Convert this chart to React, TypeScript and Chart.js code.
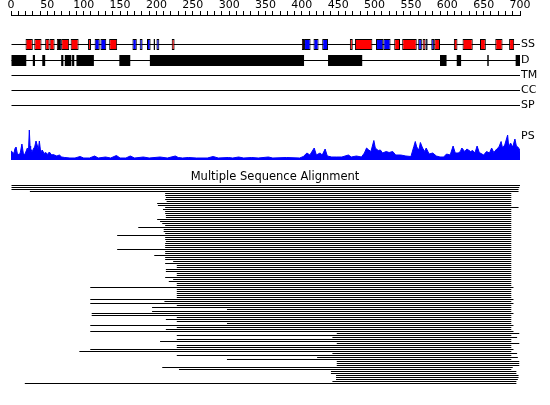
import React, { useEffect, useRef } from 'react';
import { Chart, registerables } from 'chart.js';

Chart.register(...registerables);

// ---------------- data ----------------
const SEQ_LENGTH = 700;
const RULER_STEP = 10;
const RULER_LABEL_STEP = 50;

const TRACK_NAMES = ['SS', 'D', 'TM', 'CC', 'SP', 'PS'];

// secondary structure: helix (red) and strand (blue) segments [start, end]
const SS_HELIX: [number, number][] = [
  [20, 30], [32, 42], [47, 53], [53, 60], [63, 66], [69, 80], [82, 93], [106, 110],
  [135, 146], [221, 225], [400, 403], [466, 470], [473, 497], [527, 535], [538, 558],
  [566, 570], [582, 590], [609, 614], [621, 635], [645, 653], [666, 676], [685, 692],
];
const SS_STRAND: [number, number][] = [
  [66, 69], [115, 122], [123, 131], [167, 173], [177, 181], [187, 192], [196, 198],
  [200, 204], [403, 412], [416, 423], [428, 436], [502, 512], [512, 522], [560, 565],
  [570, 573], [578, 582],
];
// disorder segments
const DISORDER: [number, number][] = [
  [0, 21], [30, 33], [43, 47], [69, 72], [74, 83], [84, 87], [90, 114], [149, 164],
  [191, 403], [436, 483], [590, 599], [613, 619], [655, 657], [694, 700],
];

// profile (PS) positions and scores
const PS_POS = [
  0, 2, 4, 5.5, 7, 8.7, 11.5, 13, 15, 17, 19, 22.5, 24, 25.2, 26.2, 27, 29, 30.7, 32.5, 34.4,
  36, 37.5, 39, 40.8, 43, 45.4, 48, 50, 52.7, 56, 58, 63, 66.5, 69.7, 74, 81, 88, 95, 100, 108,
  115, 120, 130, 137, 145, 150, 158, 164, 170, 182, 190, 205, 215, 226, 230, 236, 244, 255, 270, 278,
  285, 299, 305, 313, 320, 331, 340, 354, 360, 379, 397, 402, 407, 411, 417, 420, 425, 428, 432, 435,
  441, 448, 455, 464, 468, 475, 482, 486, 489, 492, 495, 499, 501, 505, 508, 511, 516, 520, 525, 529,
  536, 543, 550, 554, 556, 558, 561, 563, 566, 569, 571, 575, 580, 585, 590, 595, 599, 604, 608, 611,
  615, 618, 620, 624, 627, 632, 635, 638, 641, 644, 650, 654, 658, 661, 664, 668, 671, 674, 676, 679,
  683, 684.5, 687, 690, 693, 695, 697, 699, 700,
];
const PS_SCORE = [
  9, 8, 6.5, 11.5, 13, 6.5, 5, 8, 16, 6.5, 5.5, 12, 8, 30, 14, 11.5, 8, 11, 13, 19,
  15, 10, 19, 8, 10, 6.5, 7.5, 5.5, 8, 5, 5.5, 4, 5, 3, 2.5, 2, 2, 3.5, 2, 2,
  4, 2, 3, 2, 4.5, 2, 2, 4, 2, 3, 2, 3, 2, 4, 2.5, 2, 2.5, 2, 2, 3.5,
  2, 2.5, 2, 3, 2, 2.5, 2, 3, 2, 2.5, 2, 3.5, 7, 5, 12, 5, 7, 5, 11, 4,
  3, 3, 3, 5, 3, 4, 3, 7, 12, 10, 8.5, 19.5, 12, 9.5, 10, 7, 8.5, 7.5, 8.5, 5,
  5, 4, 3.5, 13.5, 18.5, 13, 10, 17.5, 12, 8.5, 12, 6, 7, 4, 3, 3, 6, 5, 14, 7,
  7, 8.5, 12, 8.5, 11, 8.5, 9.5, 7, 14, 7.5, 5, 8.5, 7, 12, 7.5, 11, 13, 18.5, 12, 15,
  25, 13, 17, 13, 21, 14, 13, 11, 8.5,
];

// multiple sequence alignment: aligned start / end of each hit
const MSA_START = [
  0, 0, 0, 26, 212, 212, 213, 212, 214, 201,
  202, 212, 209, 212, 212, 213, 213, 201, 205, 208,
  212, 175, 210, 210, 212, 146, 212, 212, 213, 212,
  212, 212, 146, 212, 212, 197, 212, 212, 223, 212,
  228, 228, 213, 213, 228, 228, 212, 223, 217, 228,
  228, 109, 228, 228, 228, 228, 228, 109, 211, 109,
  228, 194, 297, 194, 111, 111, 228, 213, 228, 297,
  109, 228, 213, 109, 448, 228, 442, 228, 205, 448,
  228, 228, 109, 94, 442, 228, 421, 297, 448, 448,
  448, 208, 231, 440, 440, 447, 447, 447, 442, 19,
];
const MSA_END = [
  700, 699, 698, 698, 688, 688, 688, 688, 688, 688,
  688, 698, 688, 688, 688, 688, 688, 688, 688, 688,
  688, 688, 688, 688, 688, 688, 688, 688, 688, 688,
  688, 688, 688, 688, 688, 688, 688, 688, 688, 688,
  688, 688, 688, 688, 688, 688, 688, 688, 688, 688,
  688, 691, 688, 688, 688, 688, 688, 691, 688, 691,
  688, 688, 688, 688, 691, 688, 688, 688, 688, 688,
  691, 688, 688, 691, 699, 688, 696, 688, 688, 699,
  688, 688, 691, 688, 696, 688, 697, 688, 699, 699,
  699, 690, 688, 695, 695, 698, 698, 697, 695, 695,
];
const MSA_TITLE = 'Multiple Sequence Alignment';

// ---------------- layout (pixel rows of the page) ----------------
const W = 550;
const H = 405;
const FONT = 'DejaVu Sans';
const PLOT_TOP = 15;
const PLOT_BOTTOM = 390;
const PLOT_LEFT = 11;
const LABEL_W = 30;
const TRACK_Y = [44.5, 60.5, 75.5, 90.5, 105.5, 136]; // SS, D, TM, CC, SP, PS label
const PS_BASE = 160;
const MSA_TITLE_Y = 180;
const MSA_TOP = 185.5;
const MSA_GAP = 2;

const msaTitlePlugin = {
  id: 'msaTitle',
  afterDraw(chart: any) {
    const { ctx } = chart;
    const y = chart.scales.y.getPixelForValue(MSA_TITLE_Y);
    ctx.save();
    ctx.font = `11.5px "${FONT}"`;
    ctx.fillStyle = '#000';
    ctx.textAlign = 'center';
    ctx.textBaseline = 'alphabetic';
    ctx.fillText(MSA_TITLE, chart.width / 2, y);
    ctx.restore();
  },
};

const barCommon = {
  type: 'bar' as const,
  indexAxis: 'y' as const,
  xAxisID: 'x',
  yAxisID: 'y',
  grouped: false,
  inflateAmount: 0,
  borderSkipped: false,
};

export default function App() {
  const ref = useRef<HTMLCanvasElement>(null);

  useEffect(() => {
    const segs = (list: [number, number][], y: number) => list.map(([s, e]) => ({ x: [s, e], y }));
    const baselineRows = [0, 1, 2, 3, 4].map((i) => ({ x: [0, SEQ_LENGTH], y: TRACK_Y[i] }));

    const chart = new Chart(ref.current as HTMLCanvasElement, {
      type: 'bar',
      plugins: [msaTitlePlugin],
      data: {
        datasets: [
          {
            ...barCommon,
            label: 'SS helix',
            data: segs(SS_HELIX, TRACK_Y[0]),
            backgroundColor: '#ff0000',
            borderColor: '#000000',
            borderWidth: 1,
            barThickness: 11,
            order: 1,
          },
          {
            ...barCommon,
            label: 'SS strand',
            data: segs(SS_STRAND, TRACK_Y[0]),
            backgroundColor: '#0000ff',
            borderColor: '#000000',
            borderWidth: 1,
            barThickness: 11,
            order: 1,
          },
          {
            ...barCommon,
            label: 'Disorder',
            data: segs(DISORDER, TRACK_Y[1]),
            backgroundColor: '#000000',
            borderWidth: 0,
            barThickness: 11,
            order: 1,
          },
          {
            ...barCommon,
            label: 'Tracks',
            data: baselineRows,
            backgroundColor: '#000000',
            borderWidth: 0,
            barThickness: 1,
            order: 3,
          },
          {
            ...barCommon,
            label: 'MSA',
            data: MSA_START.map((s, i) => ({ x: [s, MSA_END[i]], y: MSA_TOP + i * MSA_GAP })),
            backgroundColor: '#000000',
            borderWidth: 0,
            barThickness: 1,
            order: 1,
          },
          {
            type: 'line',
            indexAxis: 'x',
            label: 'PS',
            xAxisID: 'x',
            yAxisID: 'yPS',
            data: PS_POS.map((p, i) => ({ x: p, y: PS_SCORE[i] })),
            borderColor: '#0000ff',
            backgroundColor: '#0000ff',
            borderWidth: 1,
            pointRadius: 0,
            tension: 0,
            fill: 'origin',
            order: 2,
          } as any,
        ] as any,
      },
      options: {
        indexAxis: 'y',
        responsive: false,
        animation: false,
        events: [],
        layout: { padding: { left: PLOT_LEFT, top: 0, right: 0, bottom: H - PLOT_BOTTOM } },
        plugins: {
          legend: { display: false },
          tooltip: { enabled: false },
          title: { display: false },
        },
        scales: {
          x: {
            type: 'linear',
            position: 'top',
            min: 0,
            max: SEQ_LENGTH,
            offset: false,
            afterFit: (s: any) => {
              s.height = PLOT_TOP;
            },
            afterBuildTicks: (s: any) => {
              const t = [];
              for (let v = 0; v <= SEQ_LENGTH; v += RULER_STEP) t.push({ value: v });
              s.ticks = t;
            },
            ticks: {
              autoSkip: false,
              maxRotation: 0,
              minRotation: 0,
              padding: 0,
              color: '#000',
              font: { family: FONT, size: 11, lineHeight: 1 },
              callback: (v: any) => (Number(v) % RULER_LABEL_STEP === 0 ? String(v) : ''),
            },
            grid: { offset: false, drawOnChartArea: false, drawTicks: true, tickLength: 4, color: '#000', lineWidth: 1 },
            border: { display: true, color: '#000', width: 1 },
          },
          y: {
            type: 'linear',
            display: false,
            reverse: true,
            offset: false,
            grid: { offset: false },
            min: PLOT_TOP,
            max: PLOT_BOTTOM,
          },
          yPS: {
            type: 'linear',
            display: false,
            offset: false,
            grid: { offset: false },
            min: -(PLOT_BOTTOM - PS_BASE),
            max: PS_BASE - PLOT_TOP,
          },
          yLab: {
            type: 'linear',
            position: 'right',
            reverse: true,
            offset: false,
            min: PLOT_TOP,
            max: PLOT_BOTTOM,
            afterFit: (s: any) => {
              s.width = LABEL_W;
            },
            afterBuildTicks: (s: any) => {
              s.ticks = TRACK_Y.map((v) => ({ value: v }));
            },
            ticks: {
              autoSkip: false,
              padding: 1,
              color: '#000',
              font: { family: FONT, size: 11 },
              callback: (_v: any, i: number) => TRACK_NAMES[i],
            },
            grid: { display: false, drawTicks: false, offset: false },
            border: { display: false },
          },
        } as any,
      },
    } as any);
    return () => chart.destroy();
  }, []);

  return (
    <div style={{ position: 'absolute', left: 0, top: 0, width: W, height: H, background: '#fff' }}>
      <canvas ref={ref} width={W} height={H} style={{ display: 'block' }} />
    </div>
  );
}
